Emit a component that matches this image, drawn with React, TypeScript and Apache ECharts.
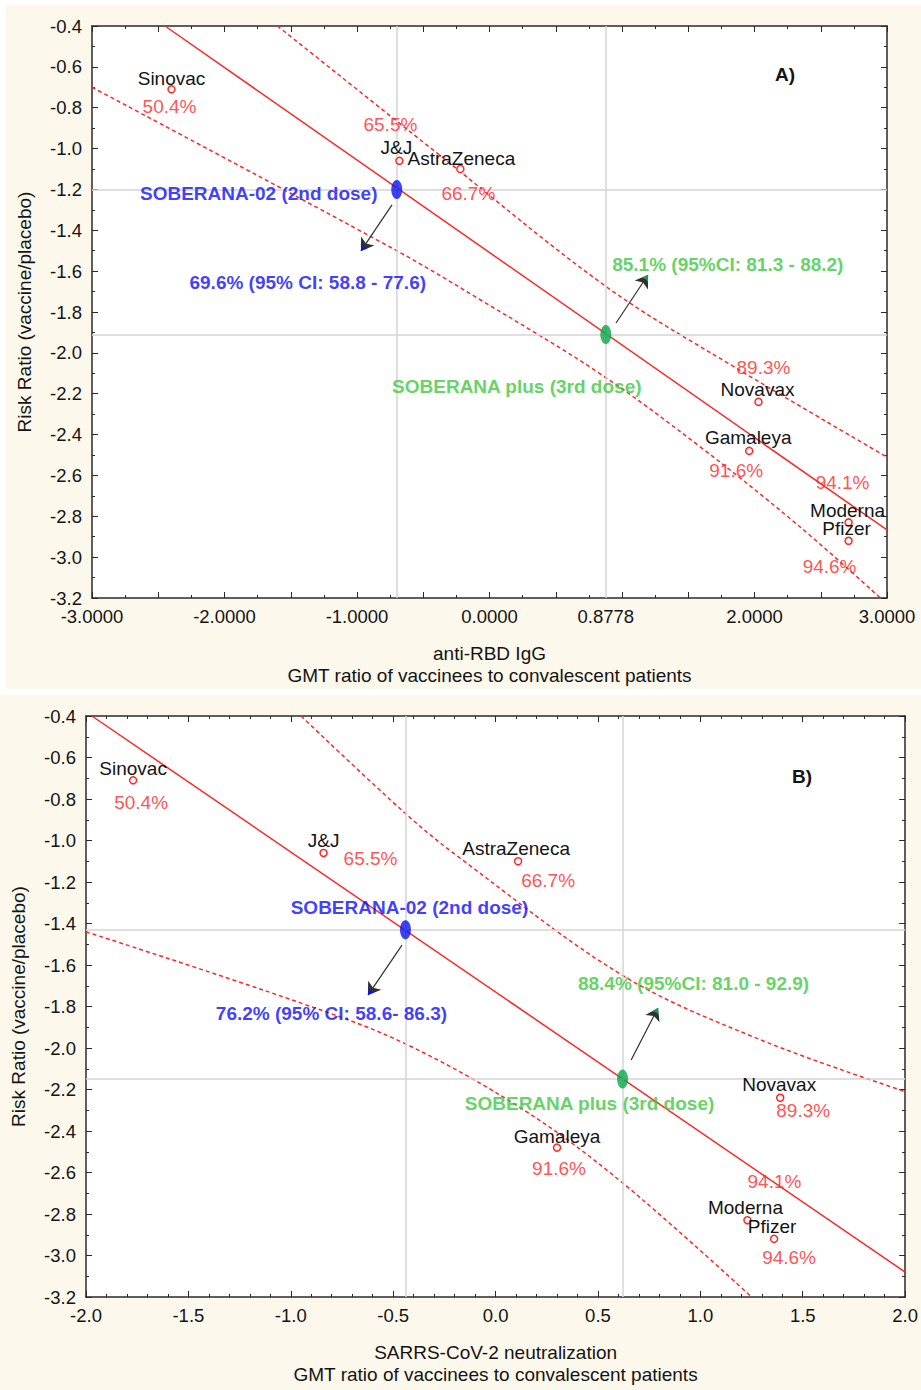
import React, { useEffect, useRef } from "react";
import * as echarts from "echarts";

// ---------------- DATA ----------------
const vaccines = ["Sinovac", "J&J", "AstraZeneca", "Novavax", "Gamaleya", "Moderna", "Pfizer"];
const efficacy = ["50.4%", "65.5%", "66.7%", "89.3%", "91.6%", "94.1%", "94.6%"];
const riskRatio = [-0.71, -1.06, -1.10, -2.24, -2.48, -2.83, -2.92];
const antiRbdGmt = [-2.40, -0.68, -0.22, 2.03, 1.96, 2.71, 2.71];
const neutralizationGmt = [-1.77, -0.84, 0.11, 1.39, 0.30, 1.23, 1.36];

const xTickLabelsA = [-3, -2, -1, 0, 0.8778, 2, 3];
const xTickLabelsB = [-2, -1.5, -1, -0.5, 0, 0.5, 1, 1.5, 2];

const soberanaNames = ["SOBERANA-02 (2nd dose)", "SOBERANA plus (3rd dose)"];
const soberana02A = [-0.70, -1.20];
const soberanaPlusA = [0.8778, -1.91];
const soberana02B = [-0.44, -1.43];
const soberanaPlusB = [0.62, -2.15];
const soberanaEfficacyA = ["69.6% (95% CI: 58.8 - 77.6)", "85.1% (95%CI: 81.3 - 88.2)"];
const soberanaEfficacyB = ["76.2% (95% CI: 58.6- 86.3)", "88.4% (95%CI: 81.0 - 92.9)"];

const fitA = [[-2.449, -0.4], [3.0, -2.867]];
const upperA = [[-1.60, -0.40], [-0.40, -1.02], [0.89, -1.68], [1.85, -2.07], [3.00, -2.51]];
const lowerA = [[-3.0, -0.70], [-0.70, -1.50], [-0.07, -1.74], [0.83, -2.10], [1.59, -2.46], [2.34, -2.85], [2.95, -3.20]];

const fitB = [[-1.971, -0.4], [2.0, -3.08]];
const upperB = [[-0.95, -0.40], [-0.44, -0.87], [-0.18, -1.08], [0.62, -1.65], [1.28, -1.955], [2.0, -2.21]];
const lowerB = [[-2.0, -1.44], [-0.96, -1.78], [-0.44, -1.98], [0.14, -2.30], [0.62, -2.65], [1.25, -3.20]];

const arrowsA = [[[-0.736, -1.276], [-0.970, -1.501]], [[0.955, -1.854], [1.196, -1.619]]];
const arrowsB = [[[-0.457, -1.504], [-0.623, -1.745]], [[0.662, -2.058], [0.793, -1.807]]];

// ---------------- STYLE ----------------
const FONT = "'Liberation Sans', Arial, Helvetica, sans-serif";
const RED = "#ff2626";
const BLUE_TXT = "#0c0cff";
const BLUE_DOT = "#0a14f0";
const GREEN_TXT = "#3cc83c";
const GREEN_DOT = "#08a84a";
const AXIS = "#2a2a2a";
const CREAM = "#fdf8ec";

const nameOffA = [[0, -11], [-3, -13], [1, -11], [-1, -12], [-1, -13], [-1, -12], [-2, -12]];
const pctOffA = [[-2, 17], [-9, -36], [8, 24], [5, -34], [-13, 20], [-6, -40], [-19, 26]];
const nameOffB = [[0, -12], [0, -12], [-2, -13], [-1, -13], [0, -11], [-2, -13], [-2, -12]];
const pctOffB = [[8, 22], [47, 6], [30, 19], [23, 13], [2, 21], [27, -39], [15, 19]];
const annNameOffA = [[-138, 4], [-89, 52]];
const annEffOffA = [[-89, 93], [122, -70]];
const annNameOffB = [[4, -22], [-33, 24]];
const annEffOffB = [[-74, 84], [71, -96]];

function buildPanel(p: number, cfg: any) {
  const ax = p * 2;
  const base = { xAxisIndex: ax, yAxisIndex: ax, silent: true, animation: false };
  const lbl = { fontFamily: FONT, fontSize: 19 };
  const series: any[] = [];
  // reference lines through SOBERANA points
  series.push({
    ...base,
    type: "line",
    data: cfg.fit,
    symbol: "none",
    z: 1,
    lineStyle: { opacity: 0 },
    markLine: {
      silent: true,
      animation: false,
      symbol: ["none", "none"],
      label: { show: false },
      lineStyle: { color: "#d4d4d4", width: 1.5, type: "solid" },
      data: [
        { xAxis: cfg.s02[0] },
        { xAxis: cfg.sPlus[0] },
        { yAxis: cfg.s02[1] },
        { yAxis: cfg.sPlus[1] },
      ],
    },
  });
  series.push({
    ...base,
    type: "line",
    data: cfg.fit,
    symbol: "none",
    z: 3,
    lineStyle: { color: RED, width: 1.5 },
  });
  [cfg.upper, cfg.lower].forEach((d: any) =>
    series.push({
      ...base,
      type: "line",
      data: d,
      symbol: "none",
      smooth: 0.35,
      z: 3,
      lineStyle: { color: RED, width: 1.5, type: [4, 3] },
    })
  );
  // vaccine points with names
  series.push({
    ...base,
    type: "scatter",
    z: 5,
    symbol: "circle",
    symbolSize: 7,
    itemStyle: { color: "#ffffff", borderColor: RED, borderWidth: 1.5, opacity: 1 },
    data: cfg.xs.map((x: number, i: number) => ({
      value: [x, riskRatio[i]],
      label: { offset: cfg.nameOff[i] },
    })),
    label: {
      show: true,
      position: "inside",
      formatter: (q: any) => vaccines[q.dataIndex],
      color: "#141414",
      ...lbl,
    },
  });
  // efficacy labels
  series.push({
    ...base,
    type: "scatter",
    z: 6,
    symbolSize: 1,
    itemStyle: { color: "transparent" },
    data: cfg.xs.map((x: number, i: number) => ({
      value: [x, riskRatio[i]],
      label: { offset: cfg.pctOff[i] },
    })),
    label: {
      show: true,
      position: "inside",
      formatter: (q: any) => efficacy[q.dataIndex],
      color: RED,
      ...lbl,
    },
  });
  // SOBERANA ellipses + arrows (dark outline)
  series.push({
    ...base,
    type: "scatter",
    z: 7,
    symbol: "circle",
    symbolSize: [11, 19],
    data: [
      { value: cfg.s02, itemStyle: { color: BLUE_DOT } },
      { value: cfg.sPlus, itemStyle: { color: GREEN_DOT } },
    ],
    markLine: {
      silent: true,
      animation: false,
      symbol: ["none", "arrow"],
      symbolSize: 12,
      label: { show: false },
      lineStyle: { color: "#303030", width: 1.2, type: "solid" },
      data: cfg.arrows.map((a: any) => [{ coord: a[0] }, { coord: a[1] }]),
    },
  });
  // coloured arrowhead fill
  series.push({
    ...base,
    type: "scatter",
    z: 8,
    symbolSize: 1,
    itemStyle: { color: "transparent" },
    data: [],
    markLine: {
      silent: true,
      animation: false,
      symbol: ["none", "arrow"],
      symbolSize: 6,
      label: { show: false },
      data: cfg.arrows.map((a: any, i: number) => [
        {
          coord: [a[1][0] - (a[1][0] - a[0][0]) * 0.15, a[1][1] - (a[1][1] - a[0][1]) * 0.15],
          lineStyle: { color: i === 0 ? BLUE_DOT : GREEN_DOT, width: 0.01, type: "solid" },
        },
        { coord: a[1] },
      ]),
    },
  });
  // SOBERANA names
  series.push({
    ...base,
    type: "scatter",
    z: 8,
    symbolSize: 1,
    itemStyle: { color: "transparent" },
    data: [cfg.s02, cfg.sPlus].map((v: any, i: number) => ({
      value: v,
      label: { offset: cfg.annNameOff[i], color: i === 0 ? BLUE_TXT : GREEN_TXT },
    })),
    label: {
      show: true,
      position: "inside",
      fontWeight: "bold",
      formatter: (q: any) => soberanaNames[q.dataIndex],
      ...lbl,
    },
  });
  // SOBERANA efficacy
  series.push({
    ...base,
    type: "scatter",
    z: 8,
    symbolSize: 1,
    itemStyle: { color: "transparent" },
    data: [cfg.s02, cfg.sPlus].map((v: any, i: number) => ({
      value: v,
      label: { offset: cfg.annEffOff[i], color: i === 0 ? BLUE_TXT : GREEN_TXT },
    })),
    label: {
      show: true,
      position: "inside",
      fontWeight: "bold",
      formatter: (q: any) => cfg.eff[q.dataIndex],
      ...lbl,
    },
  });
  return series;
}

function xAxes(g: number, min: number, max: number, labels: number[], dec: number, minor: number, name: string) {
  const common = {
    type: "value",
    gridIndex: g,
    min,
    max,
    interval: 0.5,
    axisLine: { show: true, onZero: false, lineStyle: { color: AXIS, width: 1.5 } },
    axisTick: { show: true, inside: true, length: 6, lineStyle: { color: AXIS, width: 1 } },
    minorTick: { show: true, splitNumber: minor, length: 3, lineStyle: { color: AXIS, width: 1 } },
    splitLine: { show: false },
  };
  return [
    {
      ...common,
      position: "bottom",
      axisLabel: {
        show: true,
        customValues: labels,
        formatter: (v: number) => v.toFixed(dec),
        color: "#141414",
        fontSize: 18.5,
        fontFamily: FONT,
        margin: 9,
      },
      name,
      nameLocation: "middle",
      nameGap: 44,
      nameTextStyle: { color: "#141414", fontSize: 19, fontFamily: FONT, lineHeight: 22 },
    },
    { ...common, position: "top", axisLabel: { show: false } },
  ];
}

function yAxes(g: number) {
  const common = {
    type: "value",
    gridIndex: g,
    min: -3.2,
    max: -0.4,
    interval: 0.2,
    axisLine: { show: true, onZero: false, lineStyle: { color: AXIS, width: 1.5 } },
    axisTick: { show: true, inside: true, length: 6, lineStyle: { color: AXIS, width: 1 } },
    minorTick: { show: true, splitNumber: 2, length: 3, lineStyle: { color: AXIS, width: 1 } },
    splitLine: { show: false },
  };
  return [
    {
      ...common,
      position: "left",
      axisLabel: {
        show: true,
        formatter: (v: number) => v.toFixed(1),
        color: "#141414",
        fontSize: 18.5,
        fontFamily: FONT,
        margin: 10,
      },
      name: "Risk Ratio (vaccine/placebo)",
      nameLocation: "middle",
      nameGap: 58,
      nameTextStyle: { color: "#141414", fontSize: 19, fontFamily: FONT },
    },
    { ...common, position: "right", axisLabel: { show: false } },
  ];
}

export default function App() {
  const ref = useRef<HTMLDivElement>(null);
  useEffect(() => {
    document.body.style.margin = "0";
    if (!ref.current) return;
    const chart = echarts.init(ref.current, undefined, { renderer: "svg" });
    const option: any = {
      animation: false,
      backgroundColor: "transparent",
      grid: [
        { left: 92, top: 26, width: 795, height: 572, show: true, backgroundColor: "#ffffff", borderWidth: 0 },
        { left: 86, top: 716, width: 822, height: 581, show: true, backgroundColor: "#ffffff", borderWidth: 0 },
      ],
      xAxis: [
        ...xAxes(0, -3, 3, xTickLabelsA, 4, 2, "anti-RBD IgG\nGMT ratio of vaccinees to convalescent patients"),
        ...xAxes(1, -2, 2, xTickLabelsB, 1, 5, "SARRS-CoV-2 neutralization\nGMT ratio of vaccinees to convalescent patients"),
      ],
      yAxis: [...yAxes(0), ...yAxes(1)],
      graphic: [
        {
          type: "text",
          x: 785,
          y: 74,
          style: { text: "A)", font: `bold 19px ${FONT}`, fill: "#141414", align: "center", verticalAlign: "middle" },
        },
        {
          type: "text",
          x: 802,
          y: 776,
          style: { text: "B)", font: `bold 19px ${FONT}`, fill: "#141414", align: "center", verticalAlign: "middle" },
        },
      ],
      series: [
        ...buildPanel(0, {
          xs: antiRbdGmt,
          fit: fitA,
          upper: upperA,
          lower: lowerA,
          s02: soberana02A,
          sPlus: soberanaPlusA,
          eff: soberanaEfficacyA,
          arrows: arrowsA,
          nameOff: nameOffA,
          pctOff: pctOffA,
          annNameOff: annNameOffA,
          annEffOff: annEffOffA,
        }),
        ...buildPanel(1, {
          xs: neutralizationGmt,
          fit: fitB,
          upper: upperB,
          lower: lowerB,
          s02: soberana02B,
          sPlus: soberanaPlusB,
          eff: soberanaEfficacyB,
          arrows: arrowsB,
          nameOff: nameOffB,
          pctOff: pctOffB,
          annNameOff: annNameOffB,
          annEffOff: annEffOffB,
        }),
      ],
    };
    chart.setOption(option);
    return () => chart.dispose();
  }, []);
  return (
    <div style={{ position: "relative", width: 921, height: 1390, background: "#ffffff", overflow: "hidden" }}>
      <div style={{ position: "absolute", left: 6, top: 5, width: 915, height: 684, background: CREAM }} />
      <div style={{ position: "absolute", left: 0, top: 695, width: 921, height: 695, background: CREAM }} />
      <div ref={ref} style={{ position: "absolute", left: 0, top: 0, width: 921, height: 1390 }} />
    </div>
  );
}
